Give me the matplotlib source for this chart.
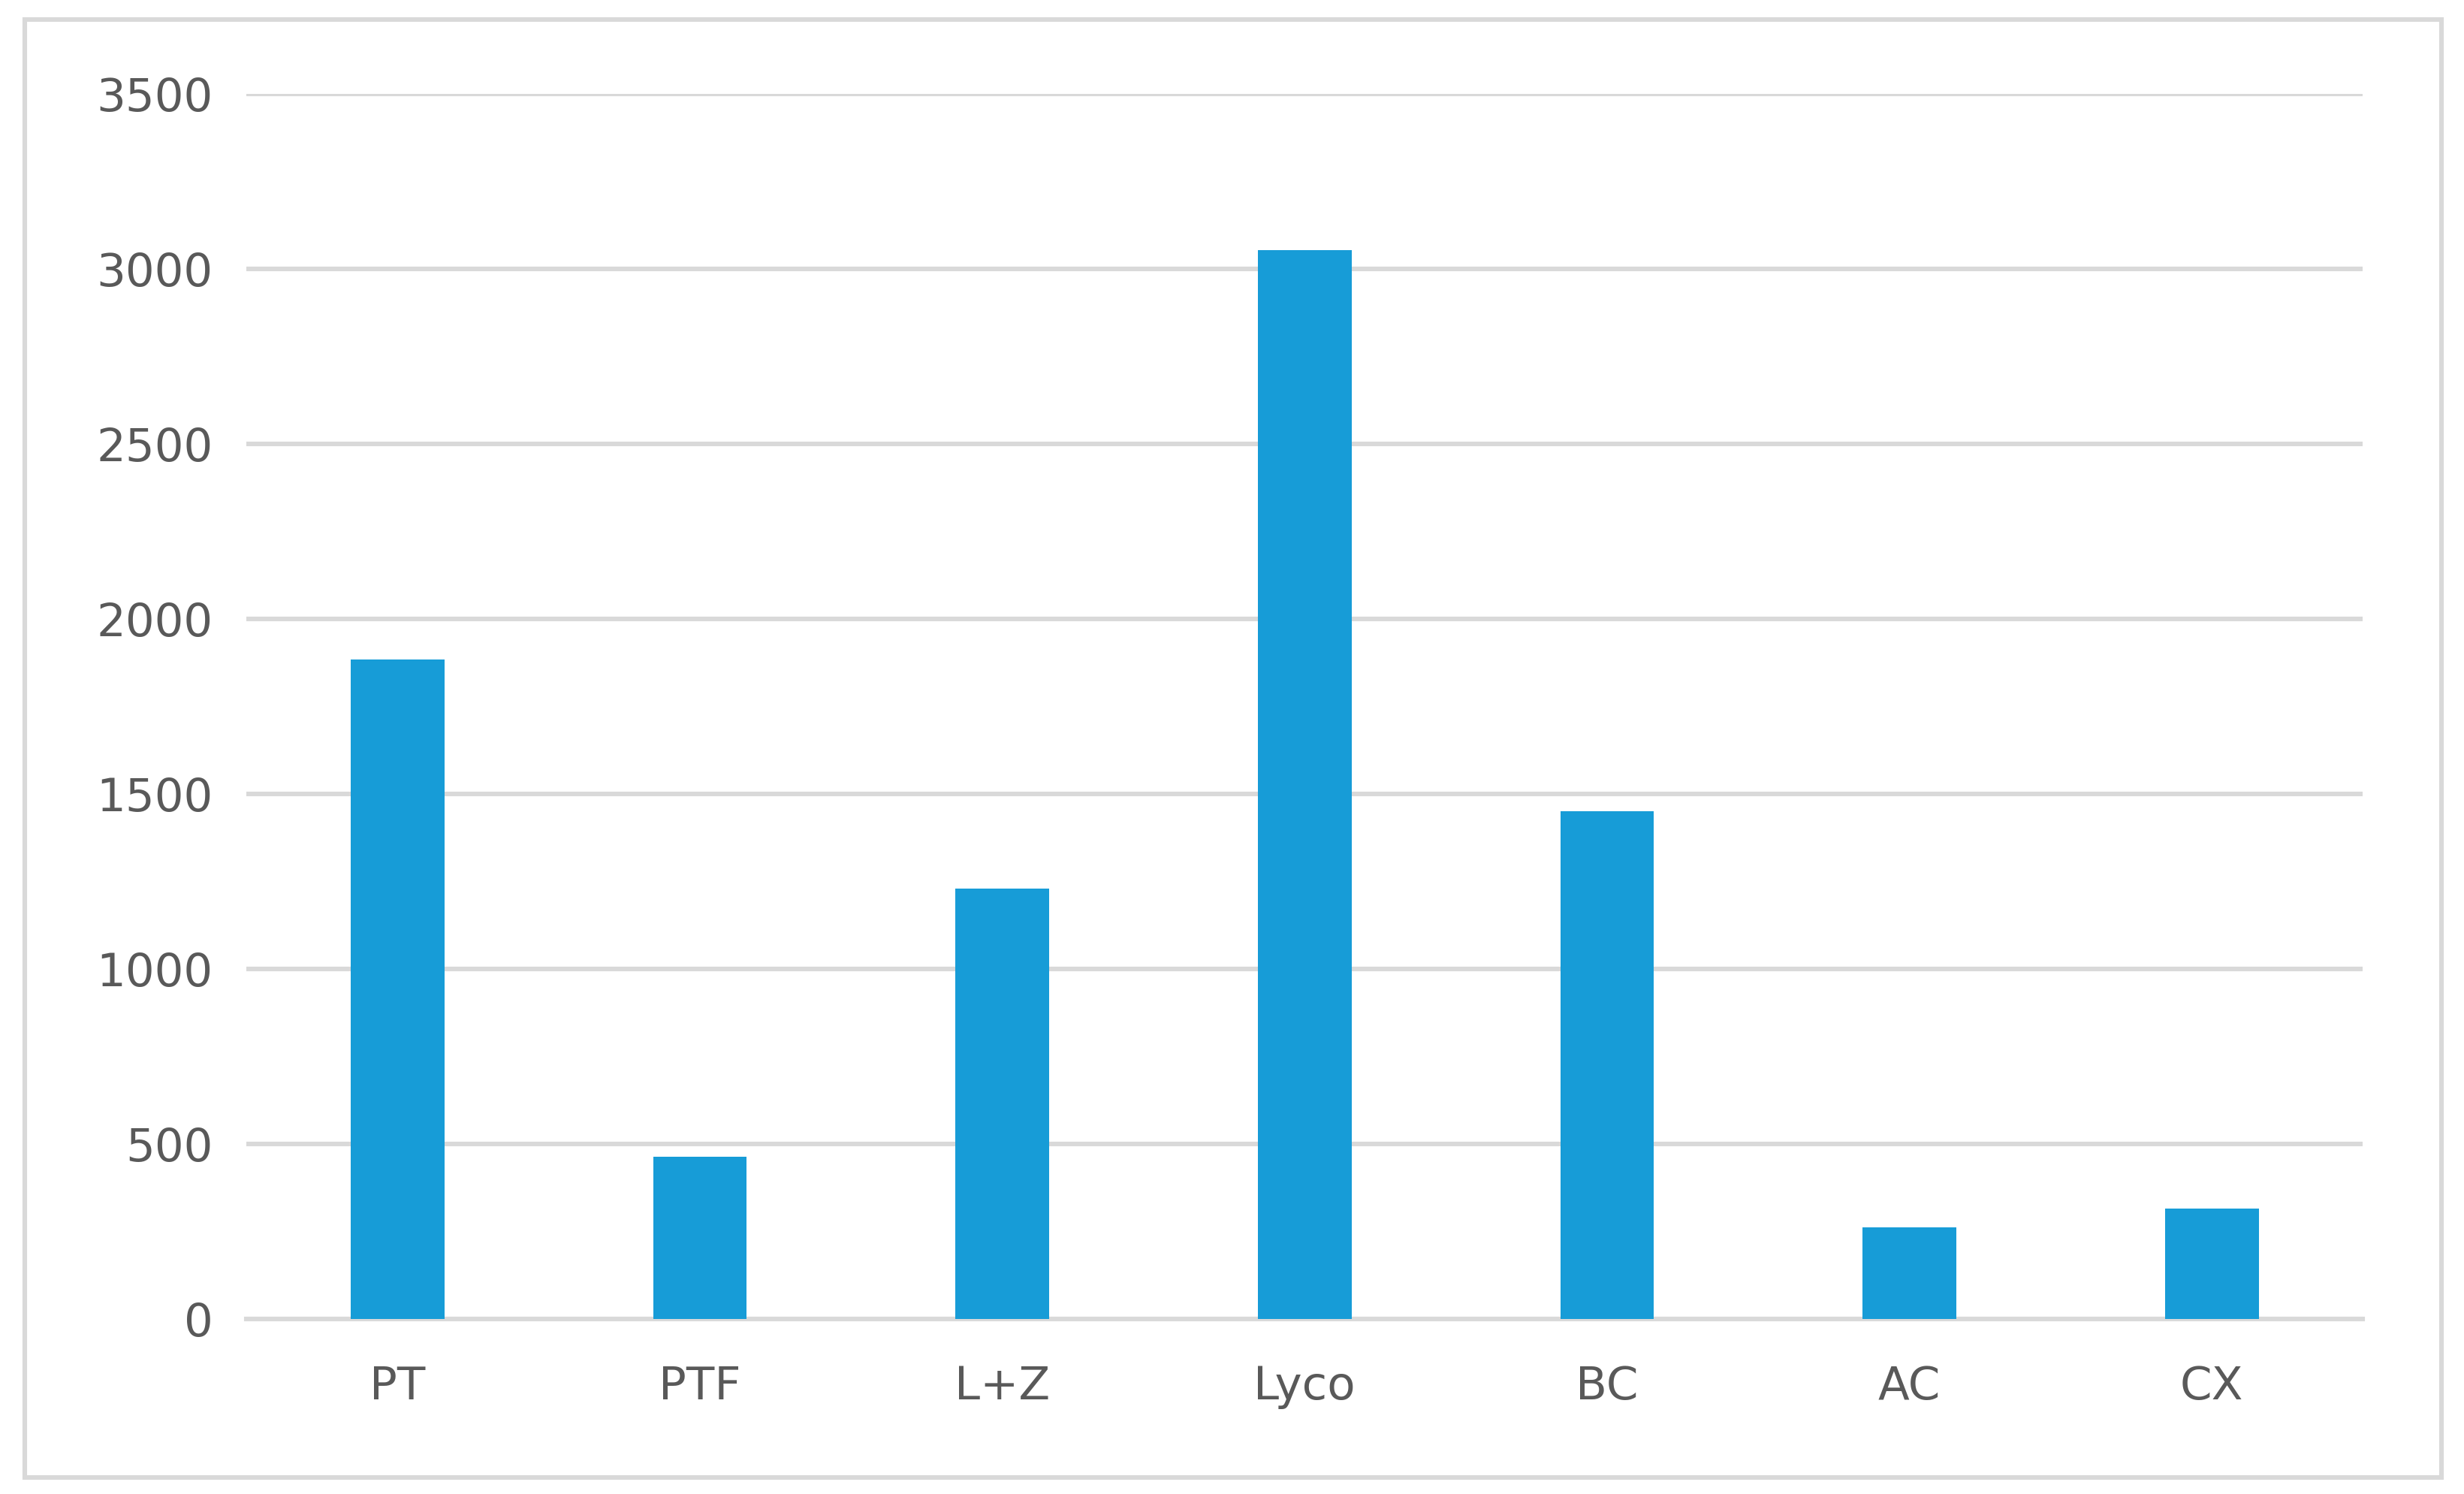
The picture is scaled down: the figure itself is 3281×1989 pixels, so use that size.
import matplotlib.pyplot as plt
from matplotlib.patches import Rectangle

categories = ['PT', 'PTF', 'L+Z', 'Lyco', 'BC', 'AC', 'CX']
values = [1885, 465, 1231, 3054, 1452, 262, 316]
yticks = [0, 500, 1000, 1500, 2000, 2500, 3000, 3500]

fig = plt.figure(figsize=(16.405, 9.945), dpi=200)
ax = fig.add_axes([0.100, 0.117, 0.859, 0.820])

ax.bar(range(len(categories)), values, width=0.31, color='#179CD7', zorder=3)
ax.set_xlim(-0.5, len(categories) - 0.5)
ax.set_ylim(0, 3500)
ax.set_yticks(yticks)
ax.set_xticks(range(len(categories)))
ax.set_xticklabels(categories)
ax.yaxis.grid(True, color='#D9D9D9', linewidth=2.2, zorder=0)
ax.set_axisbelow(True)
for s in ['top', 'right', 'left']:
    ax.spines[s].set_visible(False)
ax.spines['bottom'].set_color('#D9D9D9')
ax.spines['bottom'].set_linewidth(2.2)
ax.tick_params(length=0, labelsize=22, labelcolor='#595959')
ax.tick_params(axis='y', pad=16)
ax.tick_params(axis='x', pad=22)

fig.patches.append(Rectangle((0.010, 0.011), 0.981, 0.976, transform=fig.transFigure,
                             fill=False, edgecolor='#D9D9D9', linewidth=2.2))

fig.savefig('out.png', dpi=200)
